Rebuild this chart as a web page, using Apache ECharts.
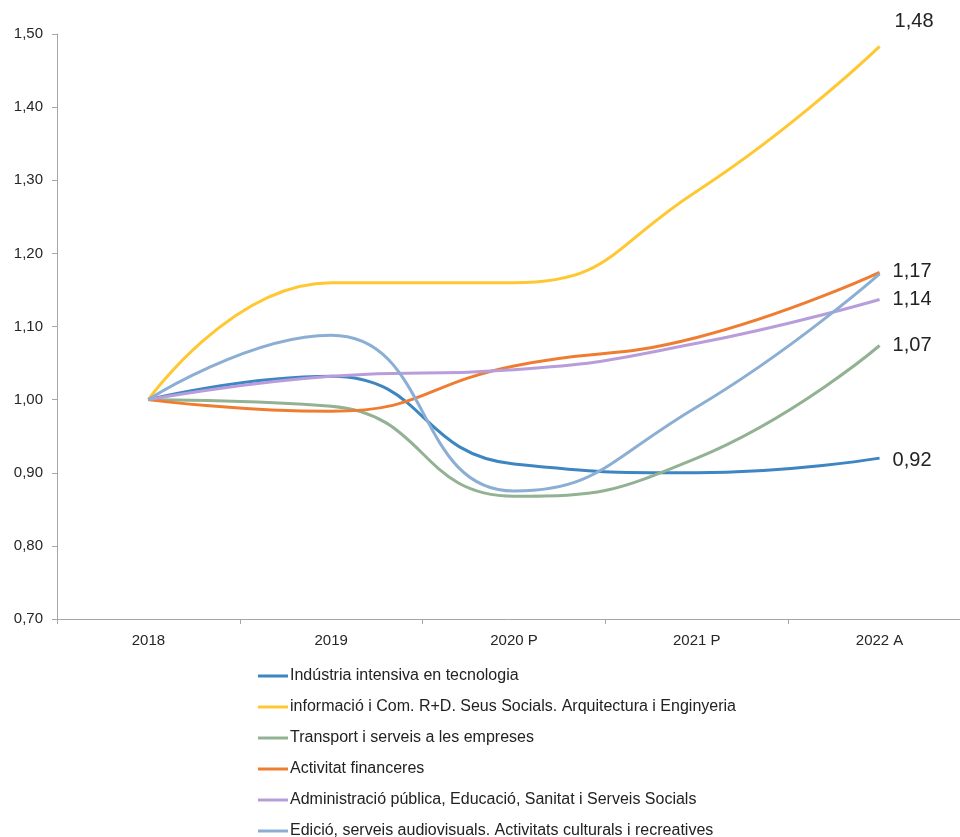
<!DOCTYPE html>
<html><head><meta charset="utf-8">
<script src="https://cdn.jsdelivr.net/npm/echarts@6/dist/echarts.min.js"></script>
<style>html,body{margin:0;padding:0;background:#fff}#c{width:960px;height:837px}</style>
</head><body><div id="c"></div>
<script>
const categories = ['2018', '2019', '2020 P', '2021 P', '2022 A'];
const seriesNames = [
  'Indústria intensiva en tecnologia',
  'informació i Com. R+D. Seus Socials. Arquitectura i Enginyeria',
  'Transport i serveis a les empreses',
  'Activitat financeres',
  'Administració pública, Educació, Sanitat i Serveis Socials',
  'Edició, serveis audiovisuals. Activitats culturals i recreatives'
];
const industria = [1.00, 1.032, 0.912, 0.900, 0.920];
const informacio = [1.00, 1.160, 1.160, 1.285, 1.483];
const transport = [1.00, 0.991, 0.868, 0.920, 1.074];
const financeres = [1.00, 0.984, 1.046, 1.085, 1.174];
const administracio = [1.00, 1.032, 1.041, 1.077, 1.137];
const edicio = [1.00, 1.088, 0.875, 0.990, 1.172];
const yTicks = {min: 0.70, max: 1.50, interval: 0.10};

const colors = ['#3d86c1', '#ffc832', '#93b294', '#ef7d31', '#b99ddb', '#8bafd4'];
const allValues = [industria, informacio, transport, financeres, administracio, edicio];
const showEndLabel = [true, true, true, true, true, false];
const endOffsets = [[0,2],[2,-25],[0,0],[0,-1],[0,0],[0,0]];
const fmt = v => v.toFixed(2).replace('.', ',');

const series = allValues.map((vals, s) => ({
  name: seriesNames[s],
  type: 'line',
  smooth: 0.5,
  symbol: 'none',
  lineStyle: {width: 3, color: colors[s]},
  itemStyle: {color: colors[s]},
  endLabel: {
    show: showEndLabel[s], distance: 13, offset: endOffsets[s],
    formatter: p => fmt(p.value), fontSize: 20, color: '#222',
    fontFamily: 'Liberation Sans'
  },
  data: vals
}));

const chart = echarts.init(document.getElementById('c'));
chart.setOption({
  animation: false,
  color: colors,
  grid: {left: 57, top: 34, bottom: 218, right: -11, containLabel: false, outerBoundsMode: 'none'},
  xAxis: {
    type: 'category', data: categories, boundaryGap: true,
    axisLine: {lineStyle: {color: '#a6a6a6', width: 1}},
    axisTick: {show: true, length: 5, lineStyle: {color: '#a6a6a6'}},
    axisLabel: {color: '#262626', fontSize: 15, margin: 14, fontFamily: 'Liberation Sans'},
    splitLine: {show: false}
  },
  yAxis: {
    type: 'value', min: yTicks.min, max: yTicks.max, interval: yTicks.interval,
    axisLine: {show: true, lineStyle: {color: '#a6a6a6'}},
    axisTick: {show: true, length: 5, lineStyle: {color: '#a6a6a6'}},
    axisLabel: {color: '#262626', fontSize: 15, margin: 14, formatter: fmt, fontFamily: 'Liberation Sans'},
    splitLine: {show: false}
  },
  legend: {
    orient: 'vertical', left: 258, top: 667, height: 200, padding: 0,
    icon: 'rect', itemWidth: 30, itemHeight: 3, itemGap: 13,
    textStyle: {fontSize: 16, color: '#222', lineHeight: 18, padding: [0,0,0,-3], fontFamily: 'Liberation Sans'},
    data: seriesNames
  },
  series: series
});
</script></body></html>
